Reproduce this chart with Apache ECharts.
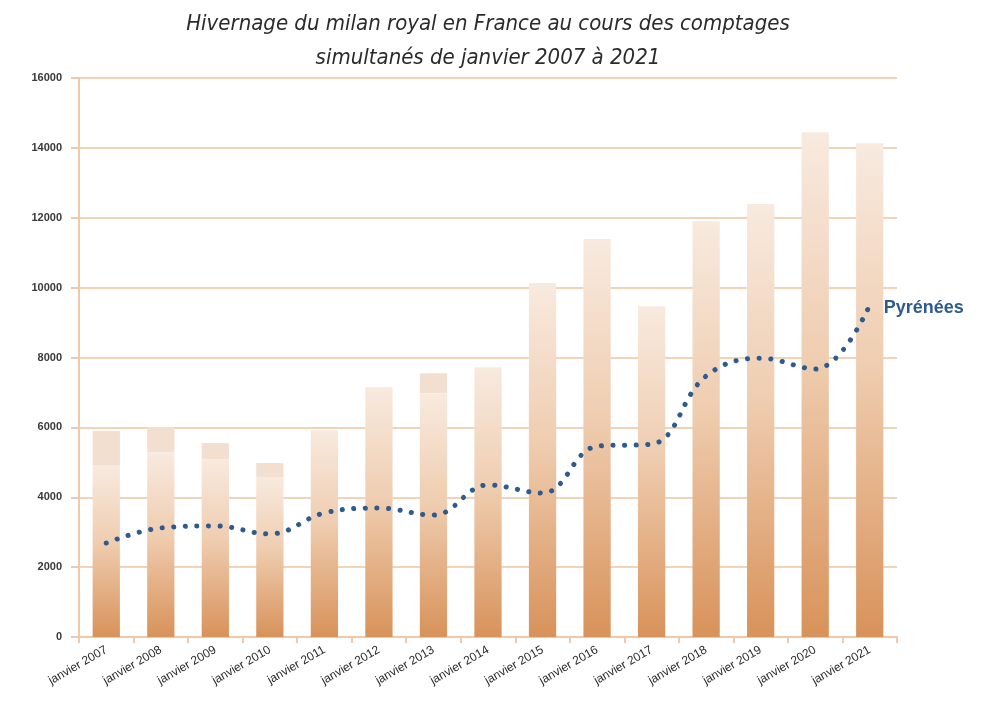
<!DOCTYPE html>
<html>
<head>
<meta charset="utf-8">
<script src="https://cdn.jsdelivr.net/npm/echarts@6/dist/echarts.min.js"></script>
<style>
    html, body { margin: 0; padding: 0; background: #ffffff; }
    #main { width: 984px; height: 702px; }
</style>
</head>
<body>
<div id="main"></div>
<script>
// values
var years = ['janvier 2007', 'janvier 2008', 'janvier 2009', 'janvier 2010', 'janvier 2011',
    'janvier 2012', 'janvier 2013', 'janvier 2014', 'janvier 2015', 'janvier 2016',
    'janvier 2017', 'janvier 2018', 'janvier 2019', 'janvier 2020', 'janvier 2021'];
var baseCounts = [4920, 5290, 5090, 4580, 5920, 7150, 6980, 7720, 10130, 11390, 9470, 11900, 12390, 14450, 14130];
var extraCounts = [980, 720, 460, 400, 0, 0, 570, 0, 0, 0, 0, 0, 0, 0, 0];
var pyrenees = [2690, 3120, 3180, 2950, 3550, 3690, 3490, 4350, 4120, 5460, 5520, 7470, 7980, 7670, 9500];
var yTicks = [0, 16000, 2000];

var barGradient = new echarts.graphic.LinearGradient(0, 0, 0, 1, [
    {offset: 0, color: '#f8eadf'},
    {offset: 0.45, color: '#efcdb0'},
    {offset: 1, color: '#d8925a'}
]);

function initChart(){
    var myChart = echarts.init(document.getElementById('main'));
    var option = {
        animation: false,
        title: {
            text: 'Hivernage du milan royal en France au cours des comptages\nsimultanés de janvier 2007 à 2021',
            left: 483,
            top: 2,
            textAlign: 'center',
            textStyle: {
                fontFamily: '"DejaVu Sans Condensed", "Liberation Sans Narrow", sans-serif',
                fontStyle: 'italic',
                fontWeight: 'normal',
                fontSize: 22,
                lineHeight: 34,
                color: '#2b2b2b'
            }
        },
        grid: {
            left: 79,
            right: 87,
            top: 78,
            bottom: 65
        },
        xAxis: {
            type: 'category',
            data: years,
            axisLine: { lineStyle: { color: '#f0c9a8', width: 2 } },
            axisTick: { show: true, length: 6, lineStyle: { color: '#f0c9a8', width: 2 } },
            axisLabel: {
                rotate: 30,
                interval: 0,
                margin: 12,
                fontFamily: 'Liberation Sans',
                fontSize: 12,
                color: '#2a2a2a'
            }
        },
        yAxis: {
            type: 'value',
            min: yTicks[0],
            max: yTicks[1],
            interval: yTicks[2],
            axisLine: { show: true, lineStyle: { color: '#f0c9a8', width: 2 } },
            axisTick: { show: true, length: 8, lineStyle: { color: '#f0c9a8', width: 2 } },
            splitLine: { lineStyle: { color: '#f3d3b8', width: 2 } },
            axisLabel: {
                margin: 17,
                formatter: function (v) { return String(v); },
                fontFamily: 'Liberation Sans',
                fontWeight: 'bold',
                fontSize: 11,
                color: '#3a3a3a'
            }
        },
        series: [
            {
                name: 'total',
                type: 'bar',
                stack: 'n',
                barWidth: '50%',
                data: baseCounts,
                itemStyle: {
                    color: barGradient
                }
            },
            {
                name: 'extra',
                type: 'bar',
                stack: 'n',
                barWidth: '50%',
                data: extraCounts,
                itemStyle: {
                    color: '#f2dfd0'
                }
            },
            {
                name: 'Pyrénées',
                type: 'line',
                data: pyrenees,
                smooth: 0.4,
                showSymbol: false,
                z: 5,
                lineStyle: {
                    color: '#2e5a8e',
                    width: 5,
                    type: [0.1, 11.5],
                    cap: 'round'
                },
                endLabel: {
                    show: true,
                    formatter: 'Pyrénées',
                    distance: 14,
                    offset: [0, 3],
                    fontFamily: 'Liberation Sans',
                    fontWeight: 'bold',
                    fontSize: 18,
                    color: '#2e5a8e'
                }
            }
        ]
    };
    myChart.setOption(option);
}

initChart();
</script>
</body>
</html>
